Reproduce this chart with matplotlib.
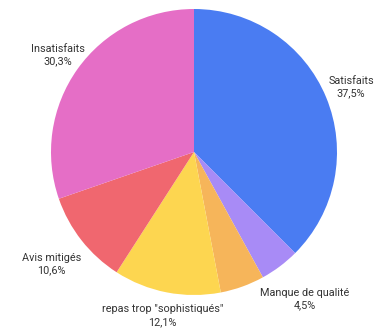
import numpy as np
import matplotlib
matplotlib.use("Agg")
import matplotlib.pyplot as plt

# Survey answers, clockwise from 12 o'clock
categories = ["Satisfaits", "Manque de qualité", "", 'repas trop "sophistiqués"',
              "Avis mitigés", "Insatisfaits"]
values = [37.5, 4.5, 5.0, 12.1, 10.6, 30.3]
colors = ["#4a7cf2", "#a88bf6", "#f6b55a", "#fdd650", "#f0676f", "#e56ec6"]
label_dist = [1.19, 1.29, 0, 1.165, 1.27, 1.17]

W, H = 385, 332
fig = plt.figure(figsize=(W / 100, H / 100), dpi=100)
cx, cy, R = 194, 152, 143
ax = fig.add_axes([(cx - R) / W, (H - cy - R) / H, 2 * R / W, 2 * R / H])

wedges, _ = ax.pie(values, colors=colors, startangle=90, counterclock=False,
                   wedgeprops=dict(linewidth=0))
ax.set_xlim(-1, 1)
ax.set_ylim(-1, 1)
ax.axis("off")

for w, name, v, d in zip(wedges, categories, values, label_dist):
    if not name:
        continue
    mid = np.deg2rad((w.theta1 + w.theta2) / 2)
    x, y = d * np.cos(mid), d * np.sin(mid)
    txt = f"{name}\n{v:.1f}%".replace(".", ",")
    ax.text(x, y, txt, ha="center", va="center", fontsize=7.8,
            family="Roboto", color="#333333", linespacing=1.3, clip_on=False)

fig.savefig("out.png", dpi=100)
